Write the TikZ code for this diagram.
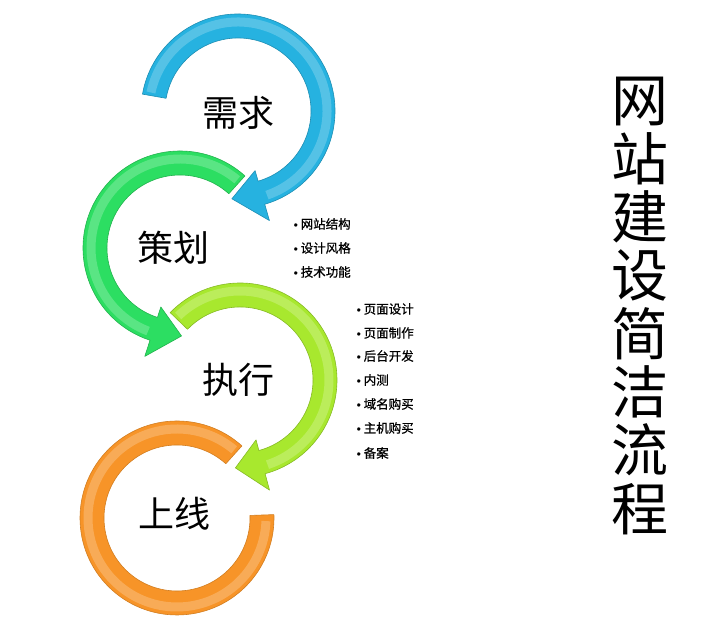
\documentclass[tikz,border=0pt]{standalone}
\usepackage{fontspec}
\newfontfamily\cjk{Noto Sans CJK SC}
\newfontfamily\cjkbold[FakeBold=0.8]{Noto Sans CJK SC}
\newcommand{\itemdot}{{\rmfamily\textbullet}}
\definecolor{ringblue}{RGB}{38,178,224}
\definecolor{ringgreen}{RGB}{44,222,98}
\definecolor{ringlime}{RGB}{168,232,46}
\definecolor{ringorange}{RGB}{247,148,40}
\tikzset{
  ring/.style={line width=0.6pt, line join=round},
  gloss/.style={white, opacity=0.22, line width=9pt},
  bigword/.style={font=\cjk\fontsize{36}{36}\selectfont, inner sep=0pt},
  listitem/.style={font=\cjkbold\fontsize{12.5}{24}\selectfont, anchor=west, inner sep=0pt},
  titletext/.style={font=\cjk\fontsize{57}{58.4}\selectfont, align=center, inner sep=0pt}
}
\begin{document}
\begin{tikzpicture}[x=1pt, y=1pt]
                \useasboundingbox (0,0) rectangle (705,636);

                % Drawing ring of step shangxian
                \filldraw [ring, fill=ringorange, draw=ringorange!85!black, shift={(177,118)}] (48:73) -- (48:97) arc [start angle=48, end angle=362, radius=97] -- (362:73) arc [start angle=362, end angle=48, radius=73] -- cycle;%
                \draw [gloss, shift={(177,118)}] (50:89) arc [start angle=50, end angle=358, radius=89];%

                % Drawing arrow of step zhixing
                \filldraw [ring, fill=ringlime, draw=ringlime!80!black, shift={(240,256)}] (136:73) -- (136:97) arc [start angle=136, end angle=-75, radius=97] -- (-75:114) -- (-93:88) -- (-75:62) -- (-75:73) arc [start angle=-75, end angle=136, radius=73] -- cycle;%
                \draw [gloss, shift={(240,256)}] (134:89) arc [start angle=134, end angle=-72, radius=89];%

                % Drawing arrow of step cehua
                \filldraw [ring, fill=ringgreen, draw=ringgreen!80!black, shift={(180,388)}] (48:73) -- (48:97) arc [start angle=48, end angle=252, radius=97] -- (252:114) -- (271:88) -- (252:62) -- (252:73) arc [start angle=252, end angle=48, radius=73] -- cycle;%
                \draw [gloss, shift={(180,388)}] (50:89) arc [start angle=50, end angle=249, radius=89];%

                % Drawing arrow of step xuqiu
                \filldraw [ring, fill=ringblue, draw=ringblue!80!black, shift={(238,525)}] (170:73) -- (170:97) arc [start angle=170, end angle=-74, radius=97] -- (-74:114) -- (-94:88) -- (-74:62) -- (-74:73) arc [start angle=-74, end angle=170, radius=73] -- cycle;%
                \draw [gloss, shift={(238,525)}] (168:89) arc [start angle=168, end angle=-71, radius=89];%

                % Marking the steps
                \node [bigword] (xuqiu) at (238,523) {需求};%
                \node [bigword] (cehua) at (173,388) {策划};%
                \node [bigword] (zhixing) at (238,256) {执行};%
                \node [bigword] (shangxian) at (174,122) {上线};%

                % Items of step cehua
                \node [listitem] (plana) at (291,412) {\itemdot{}网站结构};%
                \node [listitem] (planb) at (291,388) {\itemdot{}设计风格};%
                \node [listitem] (planc) at (291,364) {\itemdot{}技术功能};%

                % Items of step zhixing
                \node [listitem] (worka) at (354,327) {\itemdot{}页面设计};%
                \node [listitem] (workb) at (354,303) {\itemdot{}页面制作};%
                \node [listitem] (workc) at (354,280) {\itemdot{}后台开发};%
                \node [listitem] (workd) at (354,256) {\itemdot{}内测};%
                \node [listitem] (worke) at (354,232) {\itemdot{}域名购买};%
                \node [listitem] (workf) at (354,208) {\itemdot{}主机购买};%
                \node [listitem] (workg) at (354,183) {\itemdot{}备案};%

                % Title
                \node [titletext] (title) at (640,330) {网\\站\\建\\设\\简\\洁\\流\\程};%
\end{tikzpicture}
\end{document}
